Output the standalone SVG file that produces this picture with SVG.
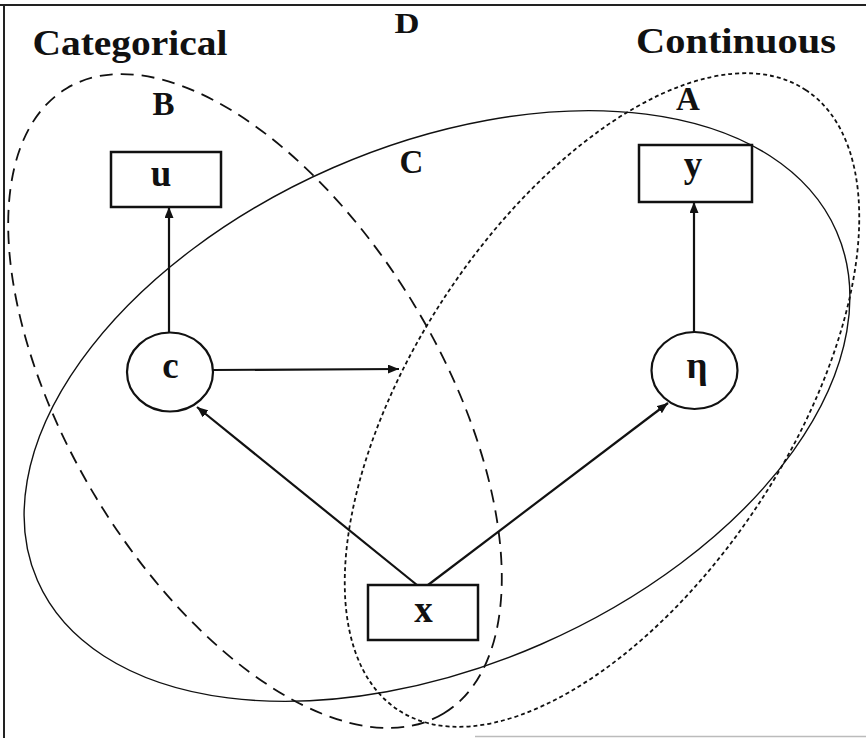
<svg xmlns="http://www.w3.org/2000/svg" width="866" height="738" viewBox="0 0 866 738">
<style>
.lbl{font-family:"Liberation Serif","Times New Roman",serif;font-weight:bold;fill:#111;text-anchor:middle}
.nt{font-family:"Liberation Serif","Times New Roman",serif;font-weight:bold;font-size:37px;fill:#111;text-anchor:middle}
.box{fill:#fff;stroke:#111;stroke-width:2.5}
.circ{fill:#fff;stroke:#111;stroke-width:2.2}
.set{fill:none;stroke:#111}
.arr{stroke:#111;stroke-width:2.2;fill:none;marker-end:url(#ah)}
</style>
<defs>
<marker id="ah" markerUnits="userSpaceOnUse" markerWidth="11" markerHeight="9" refX="11" refY="4.5" orient="auto">
<path d="M0,0 L11,4.5 L0,9 z" fill="#111"/>
</marker>
</defs>
<rect width="866" height="738" fill="#fff"/>
<g id="frame">
<line x1="0" y1="5" x2="866" y2="5" stroke="#222" stroke-width="2"/>
<line x1="4" y1="5" x2="4" y2="738" stroke="#222" stroke-width="2"/>
<line x1="475" y1="736.5" x2="866" y2="736.5" stroke="#bbb" stroke-width="1.5"/>
</g>
<g id="sets">
<ellipse id="setC" class="set" cx="437" cy="406" rx="436" ry="260" transform="rotate(-23.6 437 406)" stroke-width="1.4"/>
<ellipse id="setB" class="set" cx="255" cy="401" rx="365" ry="186" transform="rotate(58.9 255 401)" stroke-width="1.8" stroke-dasharray="13 8"/>
<ellipse id="setA" class="set" cx="602" cy="400" rx="371" ry="188" transform="rotate(-56.7 602 400)" stroke-width="1.8" stroke-dasharray="4 3"/>
</g>
<g id="labels">
<text class="lbl" x="130" y="55" font-size="36" textLength="195" lengthAdjust="spacingAndGlyphs">Categorical</text>
<text class="lbl" x="736" y="53" font-size="36" textLength="200" lengthAdjust="spacingAndGlyphs">Continuous</text>
<text class="lbl" x="407" y="33" font-size="30" textLength="25" lengthAdjust="spacingAndGlyphs">D</text>
<text class="lbl" x="163.5" y="115" font-size="33">B</text>
<text class="lbl" x="688" y="110" font-size="33">A</text>
<text class="lbl" x="411.5" y="173" font-size="33">C</text>
</g>
<g id="connectors">
<line class="arr" x1="169" y1="333" x2="169" y2="207"/>
<line class="arr" x1="694" y1="332" x2="694" y2="202"/>
<line class="arr" x1="213" y1="370" x2="399" y2="369"/>
<line class="arr" x1="417" y1="585" x2="197" y2="407"/>
<line class="arr" x1="428" y1="585" x2="668" y2="403"/>
</g>
<g id="node-u">
<rect class="box" x="111" y="152" width="110" height="55"/>
<text class="nt" x="161" y="186">u</text>
</g>
<g id="node-y">
<rect class="box" x="639" y="145" width="113" height="57"/>
<text class="nt" x="693" y="177">y</text>
</g>
<g id="node-x">
<rect class="box" x="368" y="585" width="110" height="55"/>
<text class="nt" x="423.5" y="622">x</text>
</g>
<g id="node-c">
<ellipse class="circ" cx="170" cy="372" rx="43" ry="39.5"/>
<text class="nt" x="170.5" y="378">c</text>
</g>
<g id="node-eta">
<ellipse class="circ" cx="694.5" cy="370.5" rx="43" ry="38.5"/>
<text class="nt" x="697" y="378" font-weight="normal">η</text>
</g>
</svg>
